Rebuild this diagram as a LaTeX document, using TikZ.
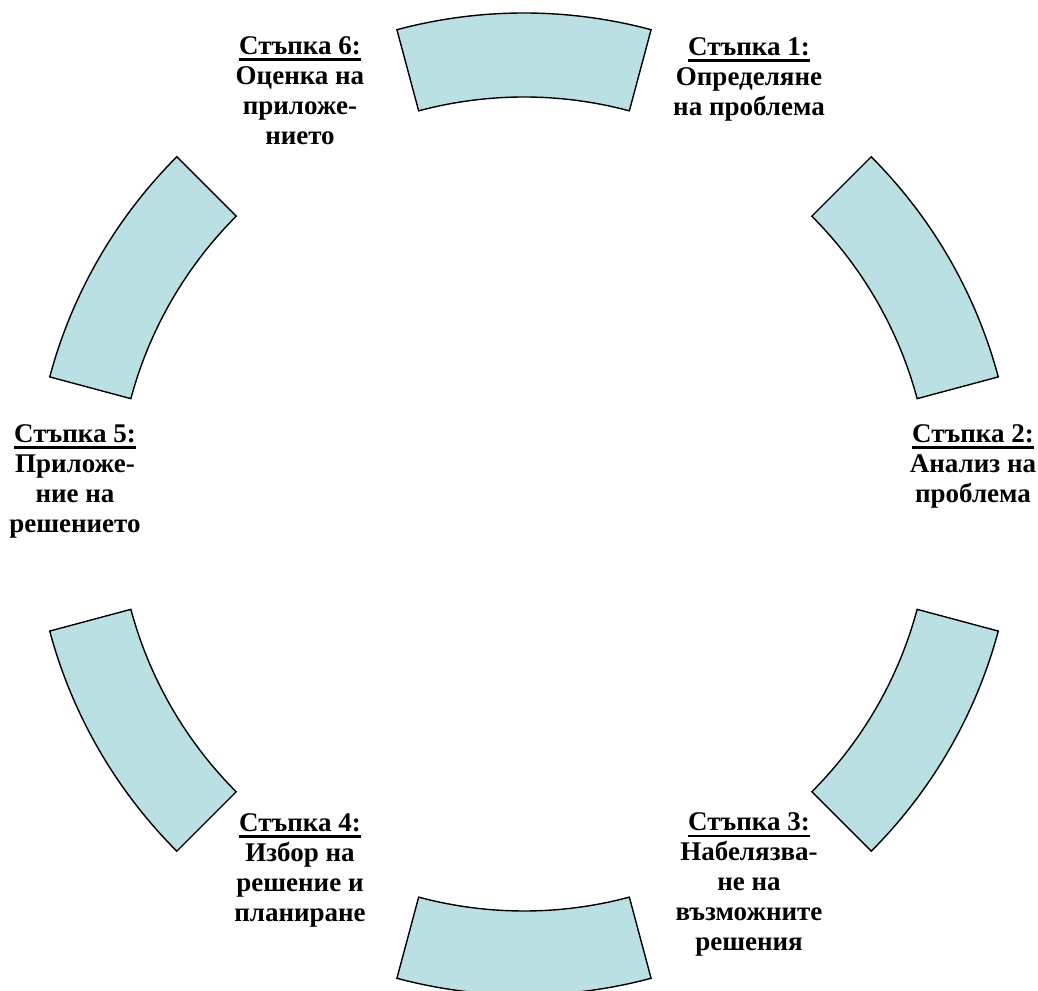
\documentclass[tikz,border=0pt]{standalone}
\usepackage{fontspec}
\setmainfont{Liberation Serif}
\definecolor{segfill}{RGB}{186,224,227}
\newcommand\stepul[1]{\setbox0\hbox{#1}\rlap{\rule[-6.5pt]{\wd0}{2.2pt}}\box0}
\newcommand\topstrut{\rule{0pt}{20pt}}
\begin{document}
\begin{tikzpicture}[x=1pt,y=1pt,
  seg/.style={draw=black,line width=1.4pt,fill=segfill,line join=miter},
  lbl/.style={anchor=north,align=center,inner sep=0pt,font=\fontsize{27}{30}\selectfont\bfseries}]
\clip (0,0) rectangle (1038,990);
\coordinate (c) at (524,486);
\foreach \a in {90,30,-30,-90,-150,150}{
  \draw[seg] ([shift={(\a-15:491)}]c) arc[start angle=\a-15,end angle=\a+15,radius=491]
    -- ([shift={(\a+15:407)}]c) arc[start angle=\a+15,end angle=\a-15,radius=407] -- cycle;
}
\node[lbl] (s1) at (749,955) {\topstrut\stepul{Стъпка 1:}\\Определяне\\на проблема};
\node[lbl] (s2) at (973,568) {\topstrut\stepul{Стъпка 2:}\\Анализ на\\проблема};
\node[lbl] (s3) at (749,180) {\topstrut\stepul{Стъпка 3:}\\Набелязва-\\не на\\възможните\\решения};
\node[lbl] (s4) at (300,179) {\topstrut\stepul{Стъпка 4:}\\Избор на\\решение и\\планиране};
\node[lbl] (s5) at (75,568) {\topstrut\stepul{Стъпка 5:}\\Приложе-\\ние на\\решението};
\node[lbl] (s6) at (300,956) {\topstrut\stepul{Стъпка 6:}\\Оценка на\\приложе-\\нието};
\end{tikzpicture}
\end{document}
